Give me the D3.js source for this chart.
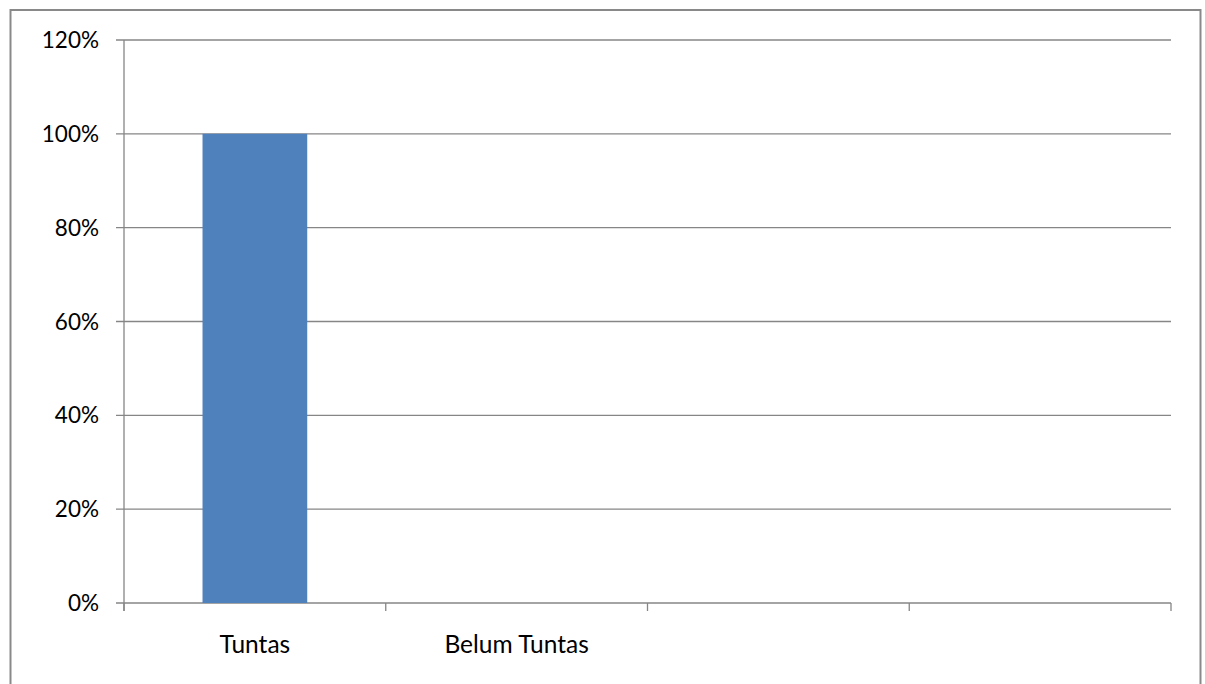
<!DOCTYPE html>
<html><head><meta charset="utf-8">
<script src="https://cdn.jsdelivr.net/npm/d3@7"></script>
<style>html,body{margin:0;padding:0;background:#fff;}svg{display:block;}</style>
</head><body>
<svg id="c" width="1205" height="684"></svg>
<script>
const categories = ["Tuntas", "Belum Tuntas", "", ""];
const values = [1.0, 0, null, null];
const yTicks = [0, 0.2, 0.4, 0.6, 0.8, 1.0, 1.2];

(function () {
const svg = d3.select("#c");
const font = "Lato, 'Open Sans', sans-serif";
const gridColor = "#868686";

// outer chart border
svg.append("rect").attr("x", 10.5).attr("y", 10).attr("width", 1190).attr("height", 690)
  .attr("fill", "none").attr("stroke", "#898989").attr("stroke-width", 2);

const pLeft = 124, pRight = 1171, pTop = 40, pBottom = 603;
const x = d3.scaleBand().domain(d3.range(categories.length)).range([pLeft, pRight]).paddingInner(0).paddingOuter(0);
const y = d3.scaleLinear().domain([0, 1.2]).range([pBottom, pTop]);

// gridlines
svg.append("g").selectAll("line").data(yTicks).join("line")
  .attr("x1", pLeft - 8).attr("x2", pRight)
  .attr("y1", d => y(d)).attr("y2", d => y(d))
  .attr("stroke", gridColor).attr("stroke-width", 1.3);

// y axis line
svg.append("line").attr("x1", pLeft).attr("x2", pLeft).attr("y1", pTop).attr("y2", pBottom + 8)
  .attr("stroke", gridColor).attr("stroke-width", 1.3);

// y labels
svg.append("g").selectAll("text").data(yTicks).join("text")
  .attr("x", 99).attr("y", d => y(d) + 8)
  .attr("text-anchor", "end")
  .attr("font-family", font).attr("font-size", 22.5).attr("fill", "#000")
  .text(d => d3.format(".0%")(d));

// x tick marks at category boundaries
const bounds = d3.range(categories.length + 1).map(i => i < categories.length ? x(i) : x(categories.length - 1) + x.bandwidth());
svg.append("g").selectAll("line").data(bounds).join("line")
  .attr("x1", d => d).attr("x2", d => d).attr("y1", pBottom).attr("y2", pBottom + 8)
  .attr("stroke", gridColor).attr("stroke-width", 1.3);

// bars
const bw = x.bandwidth() * 0.4;
svg.append("g").selectAll("rect").data(values.map((v, i) => ({v, i})).filter(d => d.v)).join("rect")
  .attr("x", d => x(d.i) + x.bandwidth() / 2 - bw / 2)
  .attr("width", bw)
  .attr("y", d => y(d.v))
  .attr("height", d => y(0) - y(d.v))
  .attr("fill", "#4f81bd");

// x labels
svg.append("g").selectAll("text").data(categories).join("text")
  .attr("x", (d, i) => x(i) + x.bandwidth() / 2)
  .attr("y", 653)
  .attr("text-anchor", "middle")
  .attr("font-family", font).attr("font-size", 24.5).attr("fill", "#000")
  .text(d => d);
})();
</script>
</body></html>
